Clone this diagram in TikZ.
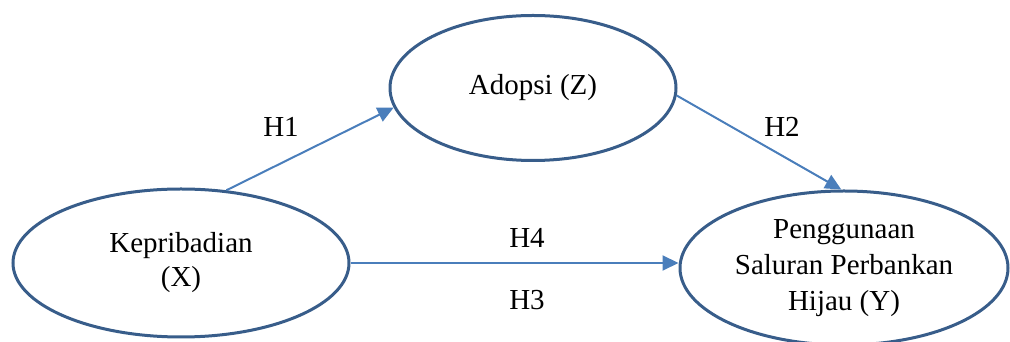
\documentclass[tikz,border=0pt]{standalone}
\usepackage{fontspec}
\setmainfont{Liberation Serif}
\usepackage{tikz}
\usetikzlibrary{shapes.geometric,arrows.meta}
\definecolor{ovalblue}{RGB}{56,93,138}
\definecolor{arrowblue}{RGB}{74,126,187}
\tikzset{
  konstruk/.style={shape=ellipse, draw=ovalblue, line width=3pt, inner sep=0pt, align=center,
    font=\fontsize{29}{36}\selectfont},
  panah/.style={draw=arrowblue, line width=2pt, -{Triangle[length=16pt,width=15pt]}},
  hipotesis/.style={font=\fontsize{29}{35}\selectfont}
}
\begin{document}
\begin{tikzpicture}[x=1pt,y=1pt]
    \useasboundingbox (0,0) rectangle (1010,342);
    % variables
    \node[konstruk, minimum width=336pt, minimum height=148pt] (X) at (181,79) {\raisebox{-2pt}{Kepribadian}\\(X)};
    \node[konstruk, minimum width=286pt, minimum height=145pt] (Z) at (533,254) {\raisebox{-7pt}{Adopsi (Z)}};
    \node[konstruk, minimum width=328pt, minimum height=154pt] (Y) at (844,74) {Penggunaan\\Saluran Perbankan\\Hijau (Y)};
    % paths
    \draw[panah] (X.58) -- (Z.188);
    \draw[panah] (Z.357) -- (Y.92);
    \draw[panah] (X.east) -- (X.east -| Y.west);
    % labels
    \node[hipotesis] (h1) at (281,215) {H1};
    \node[hipotesis] (h2) at (782,215) {H2};
    \node[hipotesis] (h4) at (527,104) {H4};
    \node[hipotesis] (h3) at (527,42) {H3};
\end{tikzpicture}
\end{document}
